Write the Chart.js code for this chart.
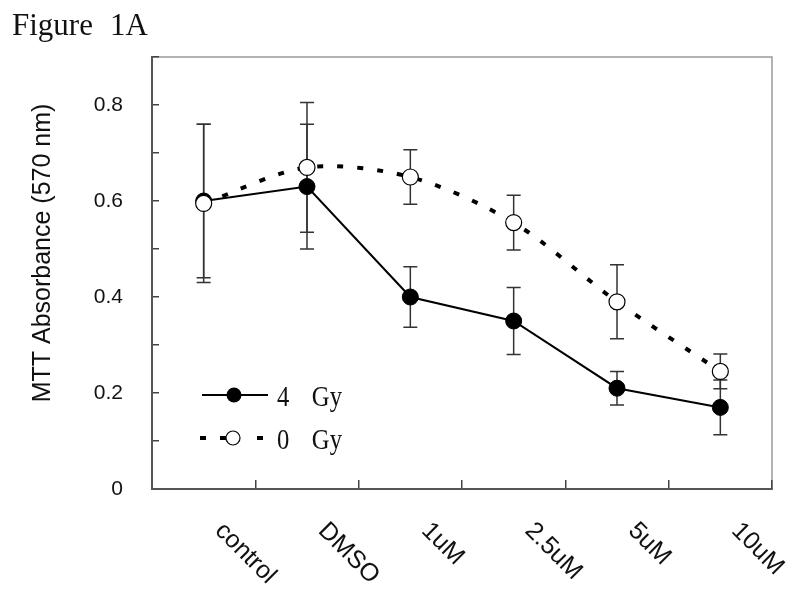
<!DOCTYPE html>
<html>
<head>
<meta charset="utf-8">
<script src="https://cdn.jsdelivr.net/npm/chart.js@4.4.0/dist/chart.umd.min.js"></script>
<style>
  html, body { margin: 0; padding: 0; background: #fff; }
  #wrap { width: 800px; height: 607px; }
</style>
</head>
<body>
<div id="wrap"><canvas id="chart" width="800" height="607"></canvas></div>
<script>
// data
var categories = ['control', 'DMSO', '1uM', '2.5uM', '5uM', '10uM'];
var gy4 = [0.60, 0.63, 0.40, 0.35, 0.21, 0.17];
var gy4Err = [0.16, 0.13, 0.063, 0.07, 0.035, 0.057];
var gy0 = [0.595, 0.67, 0.65, 0.555, 0.39, 0.245];
var gy0Err = [0.165, 0.135, 0.057, 0.057, 0.077, 0.036];
var yTicks = [0, 0.2, 0.4, 0.6, 0.8];

var sans = "'Liberation Sans', Arial, sans-serif";
var serif = "'Liberation Serif', 'Times New Roman', serif";

// Error bars, labels, legend and frame
var figurePlugin = {
  id: 'figure',
  beforeDraw: function(chart) {
    var ctx = chart.ctx, a = chart.chartArea;
    ctx.save();
    ctx.fillStyle = '#fff';
    ctx.fillRect(0, 0, chart.width, chart.height);
    // title
    ctx.fillStyle = '#111';
    ctx.font = '31px ' + serif;
    ctx.textBaseline = 'alphabetic';
    ctx.fillText('Figure', 12, 35);
    ctx.fillText('1A', 110, 35);
    // top / right frame
    ctx.strokeStyle = '#999';
    ctx.lineWidth = 1.5;
    ctx.beginPath();
    ctx.moveTo(a.left, a.top);
    ctx.lineTo(a.right, a.top);
    ctx.lineTo(a.right, a.bottom);
    ctx.stroke();
    ctx.restore();
  },
  beforeDatasetsDraw: function(chart) {
    var ctx = chart.ctx;
    var xs = chart.scales.x, ys = chart.scales.y;
    ctx.save();
    ctx.strokeStyle = '#333';
    ctx.lineWidth = 1.5;
    [[gy4, gy4Err], [gy0, gy0Err]].forEach(function(s) {
      s[0].forEach(function(v, i) {
        var x = xs.getPixelForValue(i);
        var top = ys.getPixelForValue(v + s[1][i]);
        var bot = ys.getPixelForValue(v - s[1][i]);
        ctx.beginPath();
        ctx.moveTo(x, top); ctx.lineTo(x, bot);
        ctx.moveTo(x - 7, top); ctx.lineTo(x + 7, top);
        ctx.moveTo(x - 7, bot); ctx.lineTo(x + 7, bot);
        ctx.stroke();
      });
    });
    ctx.restore();
  },
  afterDraw: function(chart) {
    var ctx = chart.ctx, a = chart.chartArea;
    var xs = chart.scales.x;
    ctx.save();
    // x labels, rotated down-right
    ctx.fillStyle = '#111';
    ctx.font = '25px ' + sans;
    ctx.textAlign = 'left';
    ctx.textBaseline = 'top';
    categories.forEach(function(c, i) {
      ctx.save();
      ctx.translate(xs.getPixelForValue(i) + 24, a.bottom + 29);
      ctx.rotate(Math.PI / 4);
      ctx.fillText(c, 0, 0);
      ctx.restore();
    });
    // y title
    ctx.save();
    ctx.translate(43, 253);
    ctx.rotate(-Math.PI / 2);
    ctx.textAlign = 'center';
    ctx.textBaseline = 'middle';
    ctx.font = '25px ' + sans;
    ctx.fillText('MTT Absorbance (570 nm)', 0, 0);
    ctx.restore();
    // legend
    var lx = a.left + 50;
    ctx.strokeStyle = '#000';
    ctx.lineWidth = 2;
    ctx.beginPath();
    ctx.moveTo(lx, 395); ctx.lineTo(lx + 66, 395);
    ctx.stroke();
    ctx.fillStyle = '#000';
    ctx.beginPath();
    ctx.arc(lx + 32, 395, 7.5, 0, Math.PI * 2);
    ctx.fill();

    ctx.lineWidth = 4;
    ctx.setLineDash([6, 14]);
    ctx.beginPath();
    ctx.moveTo(lx - 2, 438); ctx.lineTo(lx + 26, 438);
    ctx.moveTo(lx + 55, 438); ctx.lineTo(lx + 62, 438);
    ctx.stroke();
    ctx.setLineDash([]);
    ctx.fillStyle = '#fff';
    ctx.lineWidth = 1.2;
    ctx.beginPath();
    ctx.arc(lx + 31, 438, 7, 0, Math.PI * 2);
    ctx.fill();
    ctx.stroke();

    ctx.fillStyle = '#111';
    ctx.font = '29px ' + serif;
    ctx.textAlign = 'left';
    ctx.textBaseline = 'alphabetic';
    [['4', 406], ['0', 449]].forEach(function(r) {
      ctx.save();
      ctx.translate(lx + 75, r[1]);
      ctx.scale(0.85, 1);
      ctx.fillText(r[0], 0, 0);
      ctx.fillText('Gy', 41, 0);
      ctx.restore();
    });
    ctx.restore();
  }
};

var ctx = document.getElementById('chart').getContext('2d');
var chart = new Chart(ctx, {
  type: 'line',
  data: {
    labels: categories,
    datasets: [{
      label: '0 Gy',
      data: gy0,
      borderColor: '#000',
      borderWidth: 4,
      borderDash: [6, 14],
      borderCapStyle: 'butt',
      tension: 0.3,
      pointRadius: 8,
      pointBackgroundColor: '#fff',
      pointBorderColor: '#000',
      pointBorderWidth: 1.2
    }, {
      label: '4 Gy',
      data: gy4,
      borderColor: '#000',
      borderWidth: 2,
      tension: 0,
      pointRadius: 8,
      pointBackgroundColor: '#000',
      pointBorderColor: '#000',
      pointBorderWidth: 1
    }]
  },
  options: {
    responsive: false,
    devicePixelRatio: 1,
    animation: false,
    layout: { padding: { left: 0, top: 57, right: 28, bottom: 0 } },
    plugins: {
      legend: { display: false },
      tooltip: { enabled: false }
    },
    scales: {
      x: {
        type: 'category',
        offset: true,
        grid: { offset: true, drawOnChartArea: false, tickLength: -9, color: '#444', lineWidth: 1.5 },
        border: { color: '#555', width: 2 },
        ticks: { display: false },
        afterFit: function(s) { s.height = 118; }
      },
      y: {
        min: 0,
        max: 0.9,
        grid: { drawOnChartArea: false, tickLength: -7, color: '#444', lineWidth: 1.5 },
        border: { color: '#555', width: 2 },
        ticks: {
          stepSize: 0.1,
          padding: 36,
          color: '#111',
          font: { family: sans, size: 21 },
          callback: function(v) {
            var t = yTicks.find(function(k) { return Math.abs(k - v) < 1e-6; });
            if (t === undefined) return '';
            return t === 0 ? '0' : t.toFixed(1);
          }
        },
        afterFit: function(s) { s.width = 152; }
      }
    }
  },
  plugins: [figurePlugin]
});
</script>
</body>
</html>
